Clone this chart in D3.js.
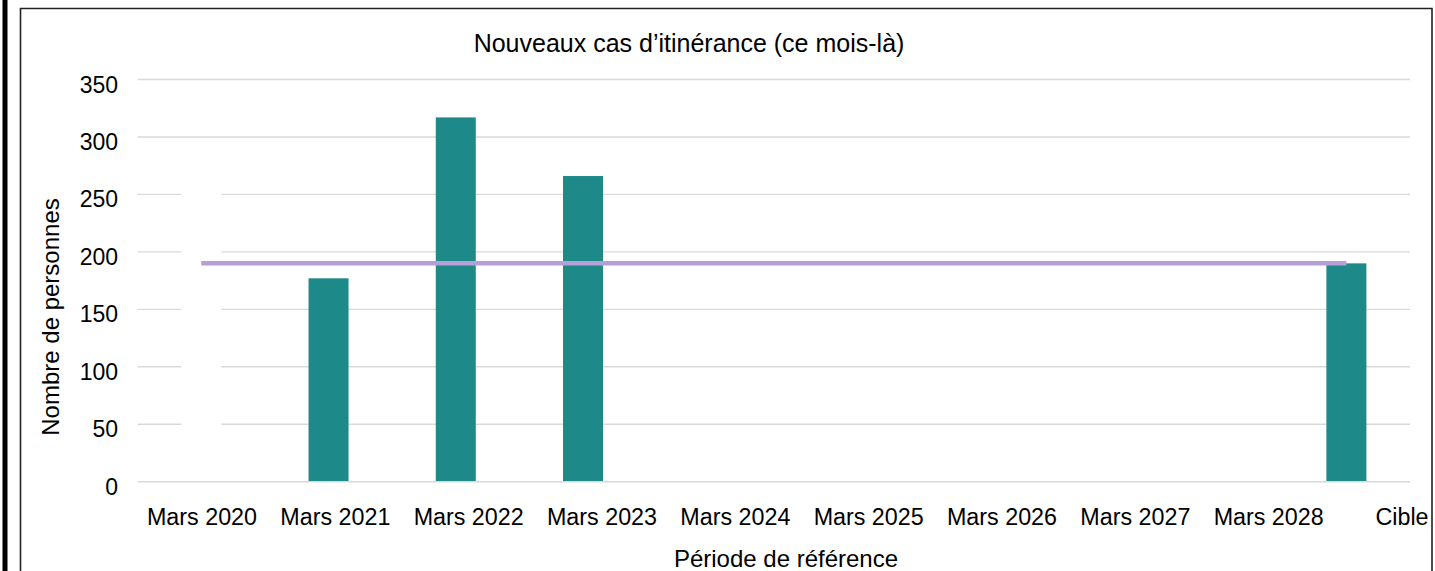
<!DOCTYPE html>
<html><head><meta charset="utf-8">
<script src="https://cdn.jsdelivr.net/npm/d3@7"></script>
<style>
html,body{margin:0;padding:0;background:#fff;}
svg{display:block;font-family:"Liberation Sans",Arial,sans-serif;}
</style>
</head><body>
<svg id="c" width="1435" height="571"></svg>
<script>
// ---- data ----
const categories = ["Mars 2020","Mars 2021","Mars 2022","Mars 2023","Mars 2024","Mars 2025","Mars 2026","Mars 2027","Mars 2028","Cible"];
const newCases   = [270, 177, 317, 266, null, null, null, null, null, 190];
const barColors  = ["#ffffff","#1e8989","#1e8989","#1e8989","#1e8989","#1e8989","#1e8989","#1e8989","#1e8989","#1e8989"];
const targetLine = [190, 190, 190, 190, 190, 190, 190, 190, 190, 190];
const yTicks     = [0, 50, 100, 150, 200, 250, 300, 350];
const titleText  = "Nouveaux cas d’itinérance (ce mois-là)";
const xTitle     = "Période de référence";
const yTitle     = "Nombre de personnes";

// ---- layout ----
const svg = d3.select("#c");
const plot = {left: 137.7, right: 1410, top: 79.5, bottom: 481.7};

const x = d3.scaleBand().domain(categories).range([plot.left, plot.right]).paddingInner(0).paddingOuter(0);
const xLabel = d3.scalePoint().domain(categories).range([202, 1402]);
const y = d3.scaleLinear().domain([0, 350]).range([plot.bottom, plot.top]);
const barW = 40;

// frame
svg.append("rect").attr("x", 2.5).attr("y", 0).attr("width", 5).attr("height", 571).attr("fill", "#000");
svg.append("path").attr("d", `M20.5,571 V8.5 H1432 V571`).attr("fill", "none").attr("stroke", "#222").attr("stroke-width", 1.6);

// gridlines
svg.append("g").selectAll("line").data(yTicks.filter(d => d !== 0)).join("line")
  .attr("x1", plot.left).attr("x2", plot.right)
  .attr("y1", d => y(d)).attr("y2", d => y(d))
  .attr("stroke", "#d9d9d9").attr("stroke-width", 1.4);

// bars
svg.append("g").selectAll("rect").data(categories.map((c, i) => ({c, v: newCases[i], col: barColors[i]})).filter(d => d.v != null))
  .join("rect")
  .attr("x", d => x(d.c) + x.bandwidth() / 2 - barW / 2)
  .attr("width", barW)
  .attr("y", d => y(d.v))
  .attr("height", d => y(0) - y(d.v))
  .attr("fill", d => d.col);

// baseline
svg.append("line").attr("x1", plot.left).attr("x2", plot.right)
  .attr("y1", y(0)).attr("y2", y(0)).attr("stroke", "#d9d9d9").attr("stroke-width", 1.4);

// target line
const line = d3.line().x((d, i) => x(categories[i]) + x.bandwidth() / 2).y(d => y(d));
svg.append("path").datum(targetLine).attr("d", line)
  .attr("fill", "none").attr("stroke", "#b49fd7").attr("stroke-width", 4.5);

// y tick labels
svg.append("g").selectAll("text").data(yTicks).join("text")
  .attr("x", 118).attr("y", d => y(d) + 13)
  .attr("text-anchor", "end").attr("font-size", 23).attr("fill", "#000")
  .text(d => d);

// x labels
svg.append("g").selectAll("text").data(categories).join("text")
  .attr("x", d => xLabel(d)).attr("y", 525)
  .attr("text-anchor", "middle").attr("font-size", 23.3).attr("fill", "#000")
  .text(d => d);

// titles
svg.append("text").attr("x", 689).attr("y", 52).attr("text-anchor", "middle")
  .attr("font-size", 25).attr("fill", "#000").text(titleText);
svg.append("text").attr("x", 786).attr("y", 567).attr("text-anchor", "middle")
  .attr("font-size", 24).attr("fill", "#000").text(xTitle);
svg.append("text").attr("transform", "translate(59,317) rotate(-90)").attr("text-anchor", "middle")
  .attr("font-size", 24).attr("fill", "#000").text(yTitle);
</script>
</body></html>
